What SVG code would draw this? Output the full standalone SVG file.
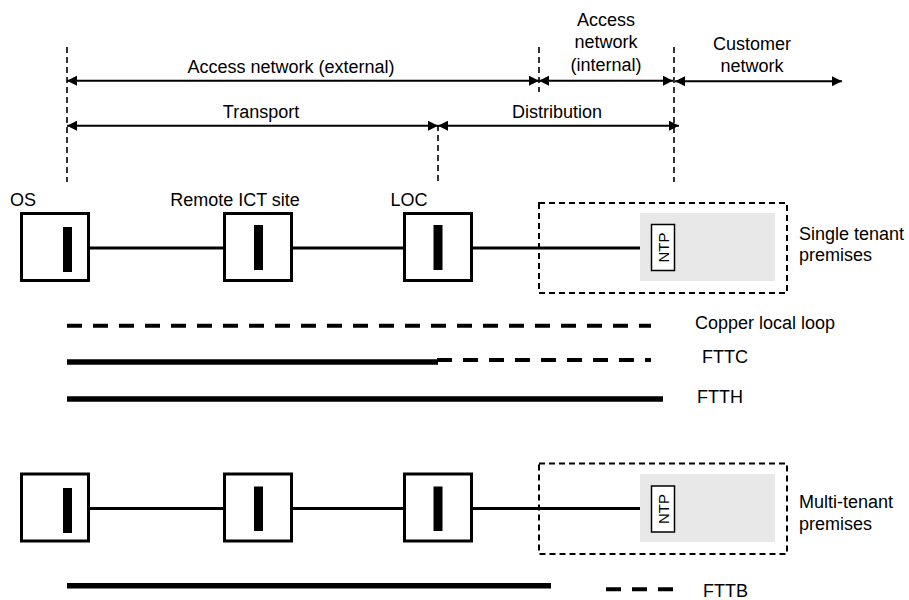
<svg xmlns="http://www.w3.org/2000/svg" width="909" height="600" viewBox="0 0 909 600">
<defs>
<marker id="ah" markerUnits="userSpaceOnUse" markerWidth="10" markerHeight="10" refX="10" refY="5" orient="auto-start-reverse" viewBox="0 0 10 10">
<path d="M0,0 L10,5 L0,10 z" fill="#000"/>
</marker>
<style>
text { font-family: "Liberation Sans", Arial, sans-serif; font-size: 18px; fill: #000; }
.mid { text-anchor: middle; }
.vd { stroke: #000; stroke-width: 1.6; stroke-dasharray: 6 4; fill: none; }
.arr { stroke: #000; stroke-width: 2; fill: none; marker-start: url(#ah); marker-end: url(#ah); }
.box { fill: #fff; stroke: #000; stroke-width: 3; }
.bar { fill: #000; }
.prem { fill: none; stroke: #000; stroke-width: 2; stroke-dasharray: 6 4; }
.gray { fill: #e8e8e8; }
.ntp { fill: #fff; stroke: #000; stroke-width: 1.5; }
.link { stroke: #000; stroke-width: 3; fill: none; }
.leg { stroke: #000; fill: none; }
.dash { stroke-width: 4; stroke-dasharray: 15 11; }
.solid { stroke-width: 5.5; }
.ntpt { font-size: 15px; }
</style>
</defs>

<g id="dimensions">
<line class="vd" x1="67" y1="47" x2="67" y2="182"/>
<line class="vd" x1="438" y1="125" x2="438" y2="182"/>
<line class="vd" x1="539" y1="47" x2="539" y2="92"/>
<line class="vd" x1="674" y1="47" x2="674" y2="182"/>
</g>

<g id="connectors">
<line class="arr" x1="67" y1="80.7" x2="539" y2="80.7"/>
<line class="arr" x1="539" y1="80.7" x2="673" y2="80.7"/>
<line class="arr" x1="675" y1="81.2" x2="842" y2="81.2"/>
<line class="arr" x1="67" y1="125.7" x2="438" y2="125.7"/>
<line class="arr" x1="438" y1="125.7" x2="679" y2="125.7"/>
<line class="link" x1="72" y1="248" x2="651" y2="248"/>
<line class="link" x1="72" y1="508.5" x2="651" y2="508.5"/>
</g>

<g id="labels">
<text class="mid" x="291" y="73">Access network (external)</text>
<text class="mid" x="606" y="26">Access</text>
<text class="mid" x="606" y="48">network</text>
<text class="mid" x="606" y="70.5">(internal)</text>
<text class="mid" x="752" y="50">Customer</text>
<text class="mid" x="752" y="72">network</text>
<text class="mid" x="261" y="118">Transport</text>
<text class="mid" x="557" y="118">Distribution</text>
</g>

<g id="os-top">
<text x="10" y="206">OS</text>
<rect class="box" x="21.5" y="213.5" width="67" height="67"/>
<rect class="bar" x="63" y="227" width="9" height="45"/>
</g>
<g id="remote-top">
<text class="mid" x="235" y="206">Remote ICT site</text>
<rect class="box" x="224.5" y="213.5" width="67" height="67"/>
<rect class="bar" x="254" y="225" width="9" height="45"/>
</g>
<g id="loc-top">
<text class="mid" x="409" y="206">LOC</text>
<rect class="box" x="404.5" y="213.5" width="67" height="67"/>
<rect class="bar" x="433.5" y="225" width="9" height="45"/>
</g>
<g id="premises-top">
<rect class="prem" x="539" y="203" width="248" height="90"/>
<rect class="gray" x="640" y="213" width="135" height="68"/>
<rect class="ntp" x="651.5" y="224.5" width="23" height="46"/>
<text class="ntpt mid" transform="translate(668.5 247.5) rotate(-90)">NTP</text>
<text x="799" y="240">Single tenant</text>
<text x="799" y="261">premises</text>
</g>

<g id="legend-top">
<line class="leg dash" x1="67" y1="325.7" x2="651" y2="325.7"/>
<text x="695" y="329">Copper local loop</text>
<line class="leg solid" x1="67" y1="362" x2="438" y2="362"/>
<line class="leg dash" x1="437" y1="360" x2="651" y2="360"/>
<text x="702" y="363">FTTC</text>
<line class="leg solid" x1="67" y1="399" x2="663" y2="399"/>
<text x="697" y="403">FTTH</text>
</g>

<g id="os-bottom">
<rect class="box" x="21.5" y="474" width="67" height="67"/>
<rect class="bar" x="63" y="488" width="9" height="45"/>
</g>
<g id="remote-bottom">
<rect class="box" x="224.5" y="474" width="67" height="67"/>
<rect class="bar" x="254" y="486.5" width="9" height="44.5"/>
</g>
<g id="loc-bottom">
<rect class="box" x="404.5" y="474" width="67" height="67"/>
<rect class="bar" x="433.5" y="486.5" width="9" height="44.5"/>
</g>
<g id="premises-bottom">
<rect class="prem" x="539" y="463.5" width="248" height="90.5"/>
<rect class="gray" x="640" y="474" width="135" height="68"/>
<rect class="ntp" x="651.5" y="486" width="23" height="46"/>
<text class="ntpt mid" transform="translate(668.5 509) rotate(-90)">NTP</text>
<text x="799" y="508">Multi-tenant</text>
<text x="799" y="530">premises</text>
</g>

<g id="legend-bottom">
<line class="leg solid" x1="67" y1="585.7" x2="551" y2="585.7"/>
<line class="leg dash" x1="606" y1="589.3" x2="674" y2="589.3"/>
<text x="703" y="597">FTTB</text>
</g>
</svg>
